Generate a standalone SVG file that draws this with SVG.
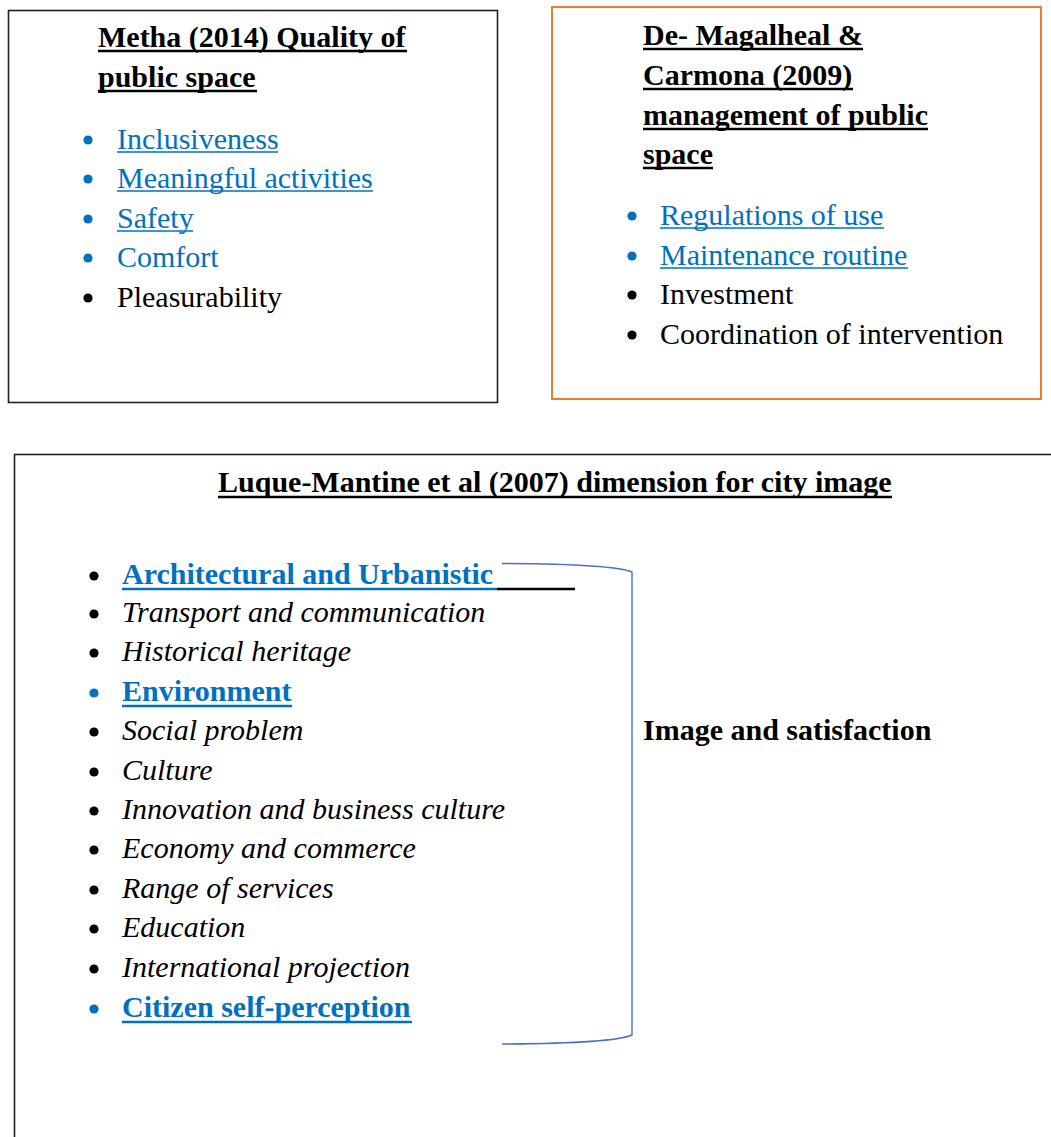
<svg xmlns="http://www.w3.org/2000/svg" width="1051" height="1137" viewBox="0 0 1051 1137">
  <style>
    text { font-family: "Liberation Serif", "Times New Roman", serif; font-size: 30px; fill: #000; }
    .title { font-weight: bold; }
    .link { fill: #0070C0; }
    .it { font-style: italic; }
    .blk { fill: #000; }
    .blue { fill: #0070C0; }
    .ul-t { stroke: #000; stroke-width: 2.5; }
    .ul-l { stroke: #0070C0; stroke-width: 1.6; }
    .ul-b { stroke: #000; stroke-width: 2.5; }
    .box { fill: #fff; stroke: #222; stroke-width: 1.6; }
    .box-o { fill: #fff; stroke: #ED7D31; stroke-width: 2; }
    .brace { fill: none; stroke: #4472C4; stroke-width: 1.4; }
  </style>
  <rect width="1051" height="1137" fill="#fff"/>

  <!-- Quality of public space -->
  <g id="metha">
    <rect class="box" x="8.5" y="10.5" width="489" height="392"/>
    <text class="title" x="98" y="47">Metha (2014) Quality of</text>
    <line class="ul-t" x1="98" y1="51" x2="407" y2="51"/>
    <text class="title" x="98" y="87">public space</text>
    <line class="ul-t" x1="98" y1="91" x2="257" y2="91"/>
    <circle class="blue" cx="88" cy="140" r="4.6"/>
    <text class="link" x="117" y="149">Inclusiveness</text>
    <line class="ul-l" x1="117" y1="152" x2="278" y2="152"/>
    <circle class="blue" cx="88" cy="179" r="4.6"/>
    <text class="link" x="117" y="188">Meaningful activities</text>
    <line class="ul-l" x1="117" y1="191" x2="373" y2="191"/>
    <circle class="blue" cx="88" cy="219" r="4.6"/>
    <text class="link" x="117" y="228">Safety</text>
    <line class="ul-l" x1="117" y1="231" x2="193" y2="231"/>
    <circle class="blue" cx="88" cy="258" r="4.6"/>
    <text class="link" x="117" y="267">Comfort</text>
    <circle class="blk" cx="88" cy="298" r="4.6"/>
    <text x="117" y="307">Pleasurability</text>
  </g>

  <!-- Management of public space -->
  <g id="magalheal">
    <rect class="box-o" x="552" y="7" width="489" height="392"/>
    <text class="title" x="643" y="45">De- Magalheal &amp;</text>
    <line class="ul-t" x1="643" y1="49" x2="863" y2="49"/>
    <text class="title" x="643" y="85">Carmona (2009)</text>
    <line class="ul-t" x1="643" y1="89" x2="853" y2="89"/>
    <text class="title" x="643" y="125">management of public</text>
    <line class="ul-t" x1="643" y1="129" x2="928" y2="129"/>
    <text class="title" x="643" y="164">space</text>
    <line class="ul-t" x1="643" y1="168" x2="713" y2="168"/>
    <circle class="blue" cx="632" cy="216" r="4.6"/>
    <text class="link" x="660" y="225">Regulations of use</text>
    <line class="ul-l" x1="660" y1="228" x2="884" y2="228"/>
    <circle class="blue" cx="632" cy="256" r="4.6"/>
    <text class="link" x="660" y="265">Maintenance routine</text>
    <line class="ul-l" x1="660" y1="268" x2="908" y2="268"/>
    <circle class="blk" cx="632" cy="295" r="4.6"/>
    <text x="660" y="304">Investment</text>
    <circle class="blk" cx="632" cy="335" r="4.6"/>
    <text x="660" y="344">Coordination of intervention</text>
  </g>

  <!-- Dimensions for city image -->
  <g id="luque">
    <rect class="box" x="14.5" y="454.5" width="1100" height="800"/>
    <text class="title" x="218" y="492">Luque-Mantine et al (2007) dimension for city image</text>
    <line class="ul-t" x1="218" y1="497" x2="892" y2="497"/>

    <circle class="blk" cx="94" cy="576" r="4.6"/>
    <text class="title link" x="122" y="584">Architectural and Urbanistic</text>
    <line stroke="#0070C0" stroke-width="2.5" x1="122" y1="589" x2="497" y2="589"/>
    <line class="ul-b" x1="497" y1="589" x2="575" y2="589"/>

    <circle class="blk" cx="94" cy="614" r="4.6"/>
    <text class="it" x="122" y="622">Transport and communication</text>
    <circle class="blk" cx="94" cy="653" r="4.6"/>
    <text class="it" x="122" y="661">Historical heritage</text>
    <circle class="blue" cx="94" cy="693" r="4.6"/>
    <text class="title link" x="122" y="701">Environment</text>
    <line stroke="#0070C0" stroke-width="2.5" x1="122" y1="706" x2="292" y2="706"/>
    <circle class="blk" cx="94" cy="732" r="4.6"/>
    <text class="it" x="122" y="740">Social problem</text>
    <circle class="blk" cx="94" cy="772" r="4.6"/>
    <text class="it" x="122" y="780">Culture</text>
    <circle class="blk" cx="94" cy="811" r="4.6"/>
    <text class="it" x="122" y="819">Innovation and business culture</text>
    <circle class="blk" cx="94" cy="850" r="4.6"/>
    <text class="it" x="122" y="858">Economy and commerce</text>
    <circle class="blk" cx="94" cy="890" r="4.6"/>
    <text class="it" x="122" y="898">Range of services</text>
    <circle class="blk" cx="94" cy="929" r="4.6"/>
    <text class="it" x="122" y="937">Education</text>
    <circle class="blk" cx="94" cy="969" r="4.6"/>
    <text class="it" x="122" y="977">International projection</text>
    <circle class="blue" cx="94" cy="1009" r="4.6"/>
    <text class="title link" x="122" y="1017">Citizen self-perception</text>
    <line stroke="#0070C0" stroke-width="2.5" x1="122" y1="1022" x2="412" y2="1022"/>
  </g>

  <g id="result">
    <text class="title" x="643" y="740">Image and satisfaction</text>
  </g>

  <!-- bracket grouping the dimensions -->
  <g id="connectors">
    <path class="brace" d="M502,563.5 Q612,564 632,572 L632,1035 Q612,1043.5 502,1044"/>
  </g>
</svg>
